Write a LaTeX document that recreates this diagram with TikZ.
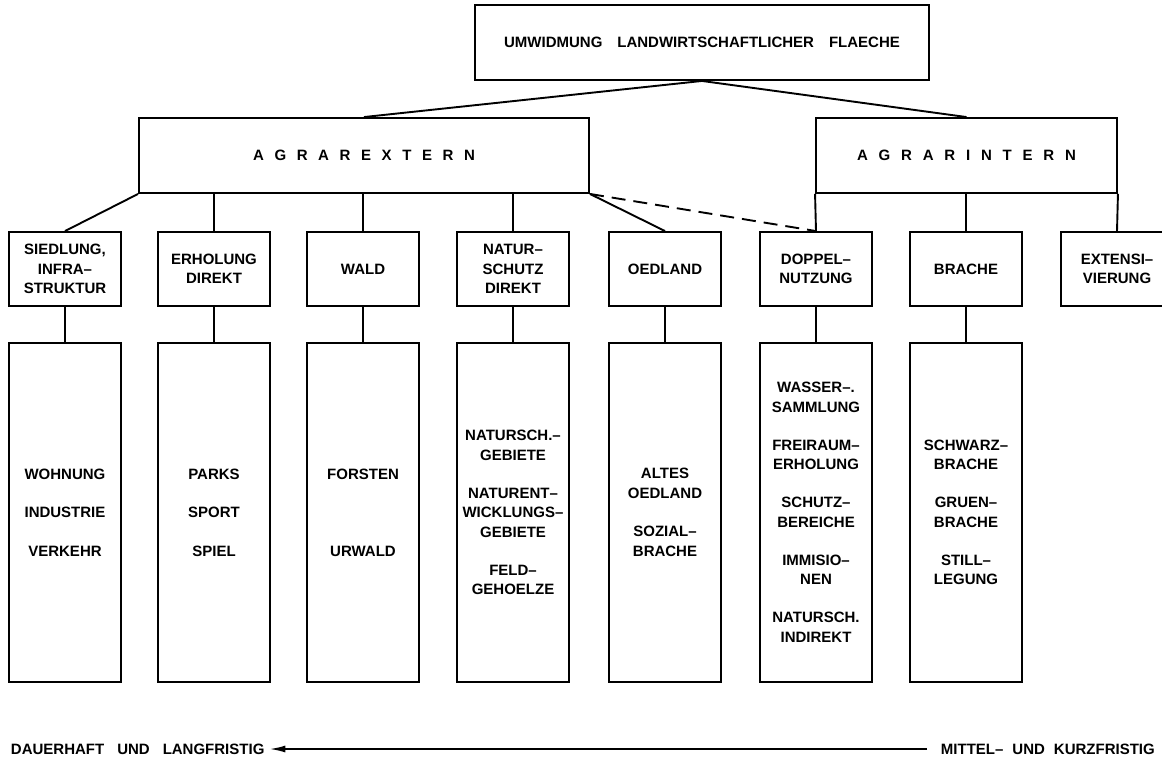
\documentclass[tikz,border=0pt]{standalone}
\usepackage{fontspec}
\setmainfont{Liberation Sans}
\usetikzlibrary{arrows.meta}
\newcommand{\wsp}[1]{\spaceskip=#1\relax}
\begin{document}
\begin{tikzpicture}[x=1pt,y=-1pt,
  line width=1.9pt,
  every node/.style={font=\bfseries\fontsize{15}{19.5}\selectfont, inner sep=0pt, align=center},
  hbox/.style={draw, minimum height=75pt},
  midbox/.style={draw, minimum width=112pt, minimum height=74pt},
  lowbox/.style={draw, minimum width=112pt, minimum height=339pt},
  dashline/.style={dash pattern=on 14pt off 8pt},
  timearrow/.style={-{Latex[length=16pt,width=7pt]}},
]
\useasboundingbox (0,0) rectangle (1162,764);
\clip (0,0) rectangle (1162,764);

% top level
\node[hbox, minimum width=454pt] (top) at (702,42.5) {{\wsp{15pt}UMWIDMUNG LANDWIRTSCHAFTLICHER FLAECHE}};
\node[hbox, minimum width=450pt] (ext) at (364,155.5) {{\wsp{10.6pt}A G R A R E X T E R N}};
\node[hbox, minimum width=301pt] (int) at (966.5,155.5) {{\wsp{10.8pt}A G R A R I N T E R N}};

% second level
\node[midbox] (sied) at (65,269) {SIEDLUNG,\\INFRA–\\STRUKTUR};
\node[midbox] (erh)  at (214,269) {ERHOLUNG\\DIREKT};
\node[midbox] (wald) at (363,269) {WALD};
\node[midbox] (nat)  at (513,269) {NATUR–\\SCHUTZ\\DIREKT};
\node[midbox] (oed)  at (665,269) {OEDLAND};
\node[midbox] (dop)  at (816,269) {DOPPEL–\\NUTZUNG};
\node[midbox] (bra)  at (966,269) {BRACHE};
\node[midbox] (exts) at (1117,269) {EXTENSI–\\VIERUNG};

% lower level
\node[lowbox] (siedL) at (65,512.5) {WOHNUNG\\[19pt]INDUSTRIE\\[19pt]VERKEHR};
\node[lowbox] (erhL)  at (214,512.5) {PARKS\\[19pt]SPORT\\[19pt]SPIEL};
\node[lowbox] (waldL) at (363,512.5) {FORSTEN\\[57.5pt]URWALD};
\node[lowbox] (natL)  at (513,512.5) {NATURSCH.–\\GEBIETE\\[18.5pt]NATURENT–\\WICKLUNGS–\\GEBIETE\\[18.5pt]FELD–\\GEHOELZE};
\node[lowbox] (oedL)  at (665,512.5) {ALTES\\OEDLAND\\[19pt]SOZIAL–\\BRACHE};
\node[lowbox] (dopL)  at (816,512.5) {WASSER–.\\SAMMLUNG\\[18.5pt]FREIRAUM–\\ERHOLUNG\\[18.5pt]SCHUTZ–\\BEREICHE\\[18.5pt]IMMISIO–\\NEN\\[18.5pt]NATURSCH.\\INDIREKT};
\node[lowbox] (braL)  at (966,512.5) {SCHWARZ–\\BRACHE\\[18.5pt]GRUEN–\\BRACHE\\[18.5pt]STILL–\\LEGUNG};

% connectors
\draw (top.south) -- (ext.north);
\draw (top.south) -- (int.north);
\draw (ext.south west) -- (sied.north);
\draw (ext.south -| erh.north) -- (erh.north);
\draw (ext.south -| wald.north) -- (wald.north);
\draw (ext.south -| nat.north) -- (nat.north);
\draw (ext.south east) -- (oed.north);
\draw[dashline] (ext.south east) -- (dop.north);
\draw (int.south west) -- (dop.north);
\draw (int.south -| bra.north) -- (bra.north);
\draw (int.south east) -- (exts.north);
\foreach \a in {sied,erh,wald,nat,oed,dop,bra}{
  \draw (\a.south) -- (\a L.north);
}

% time axis
\node[anchor=west] (lt) at (10,749) {{\wsp{13pt}DAUERHAFT UND LANGFRISTIG}};
\node[anchor=west] (rt) at (940,749) {{\wsp{9pt}MITTEL– UND KURZFRISTIG}};
\draw[timearrow, shorten <=13pt, shorten >=4pt] (rt.west) -- (lt.east);
\end{tikzpicture}
\end{document}
